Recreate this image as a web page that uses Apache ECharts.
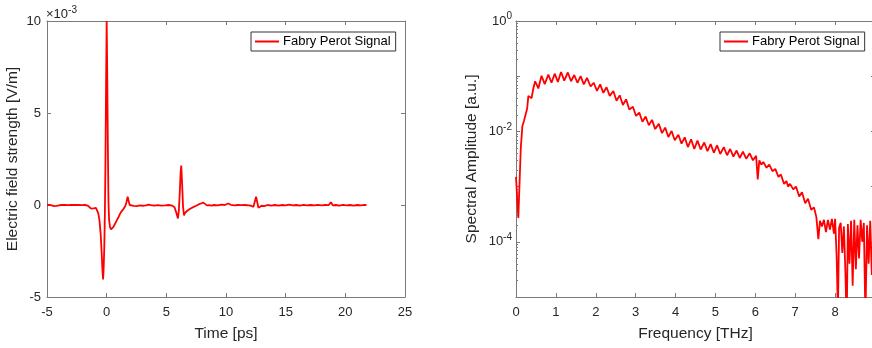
<!DOCTYPE html>
<html>
<head>
<meta charset="utf-8">
<script src="https://cdn.jsdelivr.net/npm/echarts@6/dist/echarts.min.js"></script>
<style>
html,body{margin:0;padding:0;background:#fff;}
#c{width:872px;height:348px;}
</style>
</head>
<body>
<div id="c"></div>
<script>
// ---- Time-domain signal (field in units of 1e-3 V/m) ----
var timePs = [-5.0,-4.8,-4.6,-4.4,-4.2,-4.0,-3.8,-3.5,-3.2,-3.0,-2.7,-2.4,-2.1,-1.8,-1.6,-1.45,-1.3,-1.2,-1.1,-1.0,-0.9,-0.8,-0.7,-0.6,-0.5,-0.42,-0.35,-0.3,-0.25,-0.2,-0.15,-0.1,-0.05,0.0,0.05,0.1,0.15,0.2,0.28,0.37,0.45,0.58,0.72,0.86,1.0,1.14,1.28,1.42,1.56,1.66,1.76,1.85,1.93,2.05,2.26,2.5,2.8,3.0,3.3,3.5,3.7,4.0,4.3,4.6,4.9,5.2,5.5,5.69,5.85,5.97,6.05,6.12,6.2,6.25,6.32,6.4,6.48,6.53,6.58,6.64,6.7,6.78,6.87,7.0,7.15,7.29,7.5,7.7,7.9,8.1,8.25,8.4,8.6,8.8,9.0,9.3,9.6,9.9,10.2,10.4,10.7,11.0,11.3,11.6,11.9,12.1,12.3,12.4,12.52,12.62,12.72,12.8,12.99,13.2,13.5,13.8,14.1,14.4,14.7,15.0,15.3,15.6,15.9,16.2,16.5,16.8,17.1,17.4,17.7,18.0,18.3,18.6,18.79,18.95,19.2,19.5,19.8,20.1,20.4,20.7,21.0,21.3,21.6,21.77];
var fieldE3 = [0.0,0.0,-0.02,-0.06,-0.05,-0.02,0.0,0.0,-0.01,0.0,0.0,0.0,-0.01,0.0,-0.03,-0.1,-0.2,-0.25,-0.18,-0.12,-0.15,-0.3,-0.45,-0.85,-1.6,-2.6,-3.6,-4.04,-3.4,-2.3,-0.5,2.5,6.5,10.0,7.0,3.2,0.2,-0.8,-1.2,-1.32,-1.3,-1.18,-1.0,-0.82,-0.65,-0.45,-0.32,-0.2,-0.05,0.15,0.45,0.2,0.0,-0.08,-0.05,-0.06,-0.02,-0.04,-0.02,0.02,-0.01,-0.03,-0.01,-0.03,-0.02,0.0,-0.04,-0.12,-0.45,-0.73,-0.3,0.6,1.8,2.14,1.2,-0.1,-0.56,-0.54,-0.42,-0.38,-0.42,-0.3,-0.26,-0.2,-0.15,-0.1,-0.04,0.03,0.08,0.13,0.05,-0.02,-0.01,-0.03,0.0,-0.02,0.02,0.0,0.08,0.01,-0.02,0.0,-0.01,0.0,-0.02,-0.04,-0.1,0.15,0.45,0.15,-0.15,-0.14,-0.04,-0.06,0.0,-0.03,0.0,-0.03,0.0,-0.02,0.02,-0.02,0.0,-0.03,0.01,-0.02,0.0,-0.02,0.01,-0.02,0.0,-0.01,0.15,-0.02,0.0,-0.03,0.01,-0.02,0.0,-0.03,0.0,-0.02,0.01,0.0];
var timeTicks = [-5,0,5,10,15,20,25];
var fieldTicks = [-5,0,5,10];

// ---- Spectrum ----
var freqTHz = [0.0,0.03,0.058,0.09,0.12,0.16,0.2,0.24,0.28,0.31,0.35,0.39,0.43,
0.48,0.56,0.64,0.72,0.81,0.89,0.97,1.05,1.13,1.21,1.30,1.38,1.46,1.54,1.62,1.70,1.78,1.87,1.95,2.03,2.11,2.19,2.27,2.35,2.44,2.52,2.60,2.68,2.76,2.84,2.93,3.01,3.09,3.17,3.25,3.33,3.41,3.49,3.58,3.66,3.74,3.82,3.90,3.98,4.07,4.15,4.23,4.31,4.39,4.47,4.55,4.63,4.72,4.80,4.88,4.96,5.04,5.12,5.21,5.29,5.37,5.45,5.53,5.61,5.69,5.77,5.86,5.94,6.02,
6.06,6.1,6.15,6.2,6.28,6.35,6.43,6.5,6.58,6.64,6.72,6.78,6.82,6.87,6.95,7.02,7.1,7.17,7.25,7.32,7.4,7.47,7.53,7.58,7.62,7.67,7.72,7.77,7.82,7.87,7.92,7.97,8.0,8.04,8.07,8.1,8.14,8.18,8.22,8.26,8.29,8.32,8.36,8.4,8.44,8.48,8.52,8.56,8.6,8.64,8.68,8.72,8.76,8.8,8.84,8.88,8.92,8.96,9.0];
var amplitude = [0.0015,0.0006,0.00027,0.0012,0.005,0.0125,0.0155,0.0165,0.026,0.044,0.042,0.040,0.058,
0.081,0.060,0.102,0.072,0.107,0.076,0.111,0.079,0.119,0.083,0.117,0.081,0.105,0.076,0.100,0.071,0.093,0.065,0.076,0.054,0.071,0.050,0.063,0.044,0.054,0.036,0.045,0.030,0.038,0.025,0.028,0.019,0.022,0.015,0.0186,0.0129,0.0162,0.011,0.0138,0.0093,0.0117,0.0079,0.0102,0.0069,0.0087,0.006,0.0078,0.0052,0.0072,0.0048,0.0068,0.0047,0.0063,0.0044,0.0059,0.0041,0.0056,0.0039,0.0052,0.0037,0.0048,0.0035,0.0045,0.0033,0.0043,0.0032,0.0040,0.0030,0.0036,
0.00135,0.0030,0.0025,0.0028,0.0022,0.0025,0.0019,0.0021,0.0015,0.00166,0.00112,0.00126,0.0010,0.00112,0.00089,0.0010,0.00066,0.00079,0.0005,0.0006,0.00038,0.00042,0.00028,0.000112,0.00024,0.00019,0.00025,0.00015,0.00025,0.000166,0.00026,0.00014,0.00026,0.00005,0.000005,0.00018,0.00022,0.000063,0.00019,0.000025,0.000003,0.00021,0.00004,0.00024,0.000016,0.00025,0.000032,0.0002,0.00005,0.00025,0.0001,0.00022,0.000004,0.0002,0.00004,0.00024,0.000025,0.0002,0.000126];
var freqTicks = [0,1,2,3,4,5,6,7,8,9];

var seriesName = 'Fabry Perot Signal';
var RED = '#ff0000';
var FRAME = '#7a7a7a';
var LABEL = '#262626';
var FONT = '"Liberation Sans", Arial, Helvetica, sans-serif';
var TITLE_SIZE = 15.5;

var timeData = timePs.map(function(t,i){return [t, fieldE3[i]];});
var specData = freqTHz.map(function(f,i){return [f, amplitude[i]];});

var chart = echarts.init(document.getElementById('c'), null, {renderer:'canvas'});

function frameAxis(extra){
  var base = {
    axisLine:{show:true, onZero:false, lineStyle:{color:FRAME, width:1}},
    axisTick:{show:true, inside:true, length:4, lineStyle:{color:FRAME}},
    splitLine:{show:false},
    axisLabel:{show:false}
  };
  return Object.assign(base, extra);
}

function supLabel(v){
  var e = Math.round(Math.log10(v));
  if (e % 2 !== 0) return '';
  return '{b|10}{s|' + e + '}';
}

function legendAt(left){
  return {left:left, top:32, width:144, height:14, padding:[3,5,3,4], itemGap:0,
    borderColor:'#333', borderWidth:1, backgroundColor:'#fff',
    icon:'rect', itemWidth:24, itemHeight:2, data:[seriesName],
    itemStyle:{color:RED},
    textStyle:{fontSize:13, color:'#000', fontFamily:FONT, padding:[0,0,0,-1]}};
}

var option = {
  animation:false,
  textStyle:{fontFamily:FONT},
  grid:[
    {left:47, top:21, width:358, height:276, outerBoundsMode:'none', containLabel:false},
    {left:516, top:21, width:359, height:276, outerBoundsMode:'none', containLabel:false}
  ],
  legend:[legendAt(251), legendAt(720)],
  xAxis:[
    frameAxis({type:'value', gridIndex:0, min:timeTicks[0], max:timeTicks[timeTicks.length-1], interval:5,
      axisLabel:{show:true, color:LABEL, fontSize:13, margin:9, fontFamily:FONT, showMaxLabel:true, showMinLabel:true},
      name:'Time [ps]', nameLocation:'middle', nameGap:29,
      nameTextStyle:{fontSize:TITLE_SIZE, color:LABEL, fontFamily:FONT}}),
    frameAxis({type:'value', gridIndex:0, position:'top', min:timeTicks[0], max:timeTicks[timeTicks.length-1], interval:5}),
    frameAxis({type:'value', gridIndex:1, min:freqTicks[0], max:freqTicks[freqTicks.length-1], interval:1,
      axisLabel:{show:true, color:LABEL, fontSize:13, margin:9, fontFamily:FONT, showMaxLabel:true, showMinLabel:true, hideOverlap:false},
      name:'Frequency [THz]', nameLocation:'middle', nameGap:29,
      nameTextStyle:{fontSize:TITLE_SIZE, color:LABEL, fontFamily:FONT}}),
    frameAxis({type:'value', gridIndex:1, position:'top', min:freqTicks[0], max:freqTicks[freqTicks.length-1], interval:1})
  ],
  yAxis:[
    frameAxis({type:'value', gridIndex:0, position:'left', min:fieldTicks[0], max:fieldTicks[fieldTicks.length-1], interval:5,
      axisLabel:{show:true, color:LABEL, fontSize:13, margin:6, fontFamily:FONT},
      name:'{t|\u00d710}{s|-3}', nameLocation:'end', nameGap:-2,
      nameTextStyle:{align:'left', verticalAlign:'bottom', padding:[0,0,0,-1],
        rich:{t:{fontSize:13, color:LABEL, fontFamily:FONT}, s:{fontSize:10, color:LABEL, fontFamily:FONT, verticalAlign:'top', padding:[0,0,8,0]}}}
      }),
    frameAxis({type:'value', gridIndex:0, position:'right', min:fieldTicks[0], max:fieldTicks[fieldTicks.length-1], interval:5}),
    frameAxis({type:'log', logBase:10, gridIndex:1, position:'left', min:1e-5, max:1, splitNumber:5,
      minorTick:{show:true, splitNumber:9, length:2, lineStyle:{color:FRAME}},
      axisLabel:{show:true, margin:4, formatter:supLabel,
        rich:{b:{fontSize:13, color:LABEL, fontFamily:FONT}, s:{fontSize:10, color:LABEL, fontFamily:FONT, padding:[0,0,9,0]}}}}),
    frameAxis({type:'log', logBase:10, gridIndex:1, position:'right', min:1e-5, max:1, splitNumber:5}),
    frameAxis({type:'value', gridIndex:0, position:'left', min:fieldTicks[0], max:fieldTicks[fieldTicks.length-1], interval:5,
      axisLine:{show:false}, axisTick:{show:false},
      name:'Electric field strength [V/m]', nameLocation:'middle', nameGap:26, nameRotate:90,
      nameTextStyle:{fontSize:TITLE_SIZE, color:LABEL, fontFamily:FONT}}),
    frameAxis({type:'log', logBase:10, gridIndex:1, position:'left', min:1e-5, max:1,
      axisLine:{show:false}, axisTick:{show:false},
      name:'Spectral Amplitude [a.u.]', nameLocation:'middle', nameGap:36, nameRotate:90,
      nameTextStyle:{fontSize:TITLE_SIZE, color:LABEL, fontFamily:FONT}})
  ],
  series:[
    {name:seriesName, type:'line', xAxisIndex:0, yAxisIndex:0, data:timeData,
     showSymbol:false, symbol:'none', clip:true, lineStyle:{color:RED, width:1.8}, itemStyle:{color:RED}},
    {name:seriesName, type:'line', xAxisIndex:2, yAxisIndex:2, data:specData,
     showSymbol:false, symbol:'none', clip:true, lineStyle:{color:RED, width:1.8}, itemStyle:{color:RED}}
  ]
};
chart.setOption(option);
</script>
</body>
</html>
